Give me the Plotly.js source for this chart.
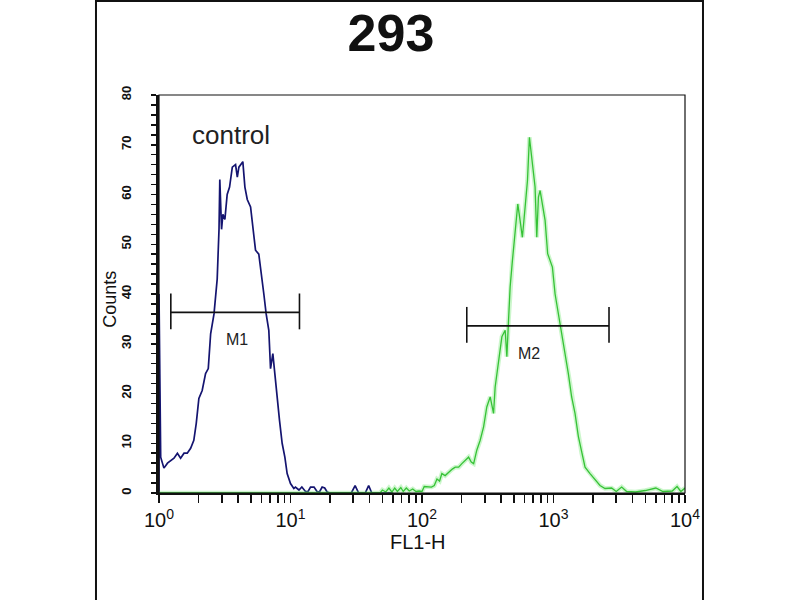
<!DOCTYPE html>
<html>
<head>
<meta charset="utf-8">
<script src="https://cdn.plot.ly/plotly-3.0.1.min.js"></script>
<style>html,body{margin:0;padding:0;background:#fff;}#chart{width:800px;height:600px;}</style>
</head>
<body>
<div id="chart"></div>
<script>
// control histogram (FL1-H, counts)
const controlX = [1,1,1.03,1.09,1.16,1.23,1.30,1.38,1.46,1.55,1.64,1.74,1.84,1.92,2.01,2.13,2.26,2.37,2.47,2.62,2.77,2.86,2.90,2.99,3.06,3.17,3.30,3.44,3.61,3.82,3.94,4.05,4.17,4.34,4.50,4.69,4.97,5.17,5.42,5.74,6.02,6.27,6.53,6.84,7.05,7.34,7.60,7.91,8.25,8.64,9.06,9.43,10.0,10.6,10.9,11.6,12.2,13.0,13.6,14.2,15.1,15.9,16.6,17.4,18.2,19.0,20,29,31,33,37,39.3,41.5,60];
const controlY = [0,40,7.2,5,6,6.5,7,8,7,8,8,9,10.6,14,19,20.6,24,25,32,36,43,53,63,53,56,55,60,61.5,65.5,66,63.5,65.5,66,66.6,61.5,59,57.5,53,48.8,48,43,40,36,32.7,25,28,24,18.6,14.6,10,7.2,3.9,1.9,0.9,1.2,0.6,1.2,0.3,0.3,1.2,1.2,0.3,0.2,1.2,1.0,0.2,0,0,1.5,0,0,1.5,0,0];

// sample histogram
const sampleX = [1,48,50,53,56,59,62,65,69,72,76,80,85,90,95,100,104,110,118,124,130,136,141.6,150,159,170,179,190,201,212,226,237,247,261,277,294,311,330,350,360,382,405,429,442,455,468,487,511,535,557,580,608,634,656,676,695,724,746,768,791,824,863,903,942,981,1028,1089,1154,1224,1297,1374,1458,1545,1637,1737,1896,2069,2258,2465,2767,3000,3300,3600,4200,5000,6000,6800,8000,8700,9300,10000];
const sampleY = [0,0,0.6,0.2,1.0,0.2,1.0,0.3,1.1,0.3,1.0,0.4,0.8,0.3,0.4,0.3,1.3,1.3,1.2,1.5,2.8,2.4,3.9,3.5,4.2,4.8,5.2,5.2,5.9,6.5,7.2,6.2,5.9,8.6,10.6,13.3,17.3,19.3,16,21.3,26.7,31.4,32.7,27.4,34.7,41.4,46.7,52.8,58.1,54.8,51.4,57.4,62.8,71.5,68.2,64.8,61.5,51.4,59.5,60.8,58.1,54.8,48.1,46.7,45.4,40,36,32.7,28,24,19.3,16,11.4,8,5.2,3.9,2.6,1.5,0.9,1.0,0.3,1.2,0.3,0.2,0.5,1.0,0.3,0.4,1.3,0.3,1.0];

// gate markers
const gateNames = ['M1','M2'];
const gateLo = [1.23, 219];
const gateHi = [11.7, 2643];
const gateLevel = [36.3, 33.6];
const gateLabelX = [3.9, 656];

// tick labels (decades and every 10 counts)
const xDecades = [1,10,100,1000,10000];
const xDecadeText = ['10<sup>0</sup>','10<sup>1</sup>','10<sup>2</sup>','10<sup>3</sup>','10<sup>4</sup>'];
const yLabelled = [0,10,20,30,40,50,60,70,80];

// full tick sets (labelled + unlabelled minor positions)
const xTickVals = [], xTickText = [];
for (let d = 0; d < 4; d++) {
  for (let m = 1; m <= 9; m++) {
    const v = m * Math.pow(10, d);
    xTickVals.push(v);
    xTickText.push(m === 1 ? xDecadeText[d] : '');
  }
}
xTickVals.push(xDecades[4]); xTickText.push(xDecadeText[4]);
const yTickVals = [], yTickText = [];
for (let v = 0; v <= 80; v += 2) {
  yTickVals.push(v);
  yTickText.push(yLabelled.indexOf(v) >= 0 ? String(v) : '');
}

const FONT = 'Liberation Sans, Arial, sans-serif';

const traces = [];
traces.push({x: controlX, y: controlY, type:'scatter', mode:'lines',
  line:{color:'#141470', width:1.7}, hoverinfo:'skip', showlegend:false});
traces.push({x: sampleX, y: sampleY, type:'scatter', mode:'lines',
  line:{color:'rgba(110,230,110,0.35)', width:4.5}, hoverinfo:'skip', showlegend:false});
traces.push({x: sampleX, y: sampleY, type:'scatter', mode:'lines',
  line:{color:'#36c236', width:1.3}, hoverinfo:'skip', showlegend:false});

const annotations = [];
for (let i = 0; i < gateNames.length; i++) {
  const lv = gateLevel[i];
  traces.push({
    x: [gateLo[i], gateLo[i], null, gateLo[i], gateHi[i], null, gateHi[i], gateHi[i]],
    y: [lv - 3.4, lv + 3.8, null, lv, lv, null, lv - 3.4, lv + 3.8],
    type:'scatter', mode:'lines', line:{color:'#111', width:1.6},
    hoverinfo:'skip', showlegend:false, connectgaps:false
  });
  annotations.push({x: Math.log10(gateLabelX[i]), y: lv - 5.5, xref:'x', yref:'y',
    text: gateNames[i], showarrow:false, font:{family:FONT, size:16, color:'#222'}});
}
annotations.push({x: Math.log10(3.5), y: 72, xref:'x', yref:'y', text:'control',
  showarrow:false, font:{family:FONT, size:26, color:'#222'}});
annotations.push({x: 0.4924, y: -0.124, xref:'paper', yref:'paper', text:'FL1-H',
  showarrow:false, font:{family:FONT, size:20, color:'#111'}, yanchor:'middle'});
annotations.push({x: -0.092, y: 0.487, xref:'paper', yref:'paper', text:'Counts', textangle:-90,
  showarrow:false, font:{family:FONT, size:18, color:'#111'}, xanchor:'center', yanchor:'middle'});

const layout = {
  width: 800, height: 600,
  margin: {l:159, r:115, t:95, b:107},
  paper_bgcolor:'#fff', plot_bgcolor:'#fff',
  title: {text:'<b>293</b>', font:{family:FONT, size:52, color:'#111'},
    xref:'paper', x:0.441, xanchor:'center', yref:'container', y:0.945, yanchor:'middle'},
  xaxis: {type:'log', range:[0,4], tickmode:'array', tickvals:xTickVals, ticktext:xTickText,
    ticks:'outside', ticklen:8, tickwidth:1.6, tickcolor:'#111',
    showline:true, linewidth:2, linecolor:'#111', showgrid:false, zeroline:false,
    tickfont:{family:FONT, size:20, color:'#111'}},
  yaxis: {range:[0,80], tickmode:'array', tickvals:yTickVals, ticktext:yTickText, tickangle:-90,
    ticks:'outside', ticklen:5, tickwidth:1.5, tickcolor:'#111',
    showline:true, linewidth:3, linecolor:'#111', showgrid:false, zeroline:false,
    tickfont:{family:FONT, size:13, color:'#111', weight:'bold'}, ticklabelstandoff:15},
  shapes: [
    {type:'rect', xref:'paper', yref:'paper', x0:0, x1:1, y0:0, y1:1, line:{color:'#111', width:1.2}},
    {type:'line', xref:'paper', yref:'paper', x0:-0.1198, x1:-0.1198, y0:-0.28, y1:1.245, line:{color:'#111', width:2}},
    {type:'line', xref:'paper', yref:'paper', x0:1.0342, x1:1.0342, y0:-0.28, y1:1.245, line:{color:'#111', width:2}},
    {type:'line', xref:'paper', yref:'paper', x0:-0.1198, x1:1.0342, y0:1.236, y1:1.236, line:{color:'#111', width:2}}
  ],
  annotations: annotations,
  showlegend:false
};

Plotly.newPlot('chart', traces, layout, {displayModeBar:false, staticPlot:true});
</script>
</body>
</html>
